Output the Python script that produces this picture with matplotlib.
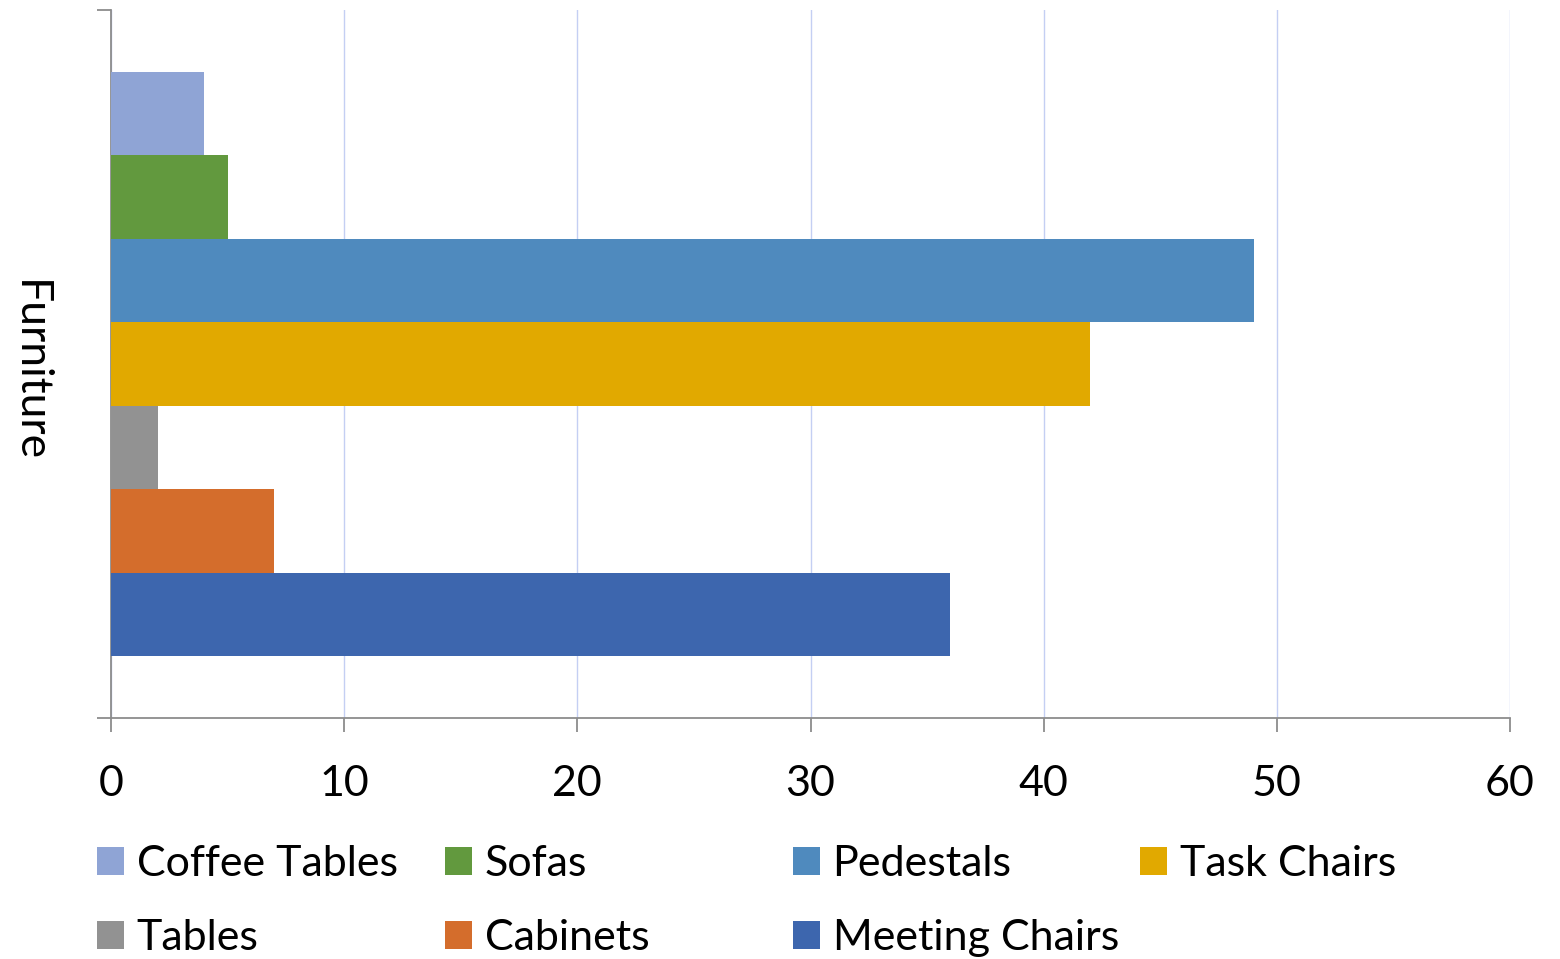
import matplotlib
matplotlib.use("Agg")
import matplotlib.pyplot as plt
from matplotlib.patches import Patch

plt.rcParams['font.family'] = ['Lato', 'DejaVu Sans']

series = ["Coffee Tables", "Sofas", "Pedestals", "Task Chairs", "Tables", "Cabinets", "Meeting Chairs"]
values = [4, 5, 49, 42, 2, 7, 36]
colors = ["#8FA4D5", "#62993E", "#4F8ABE", "#E1A900", "#929292", "#D46D2C", "#3D66AE"]
category = "Furniture"
xticks = [0, 10, 20, 30, 40, 50, 60]

fig = plt.figure(figsize=(15.6, 9.59), dpi=100)
ax = fig.add_axes([111/1560, 1 - 718/959, 1399/1560, 708/959])

n = len(series)
group = 0.825
h = group / n
for i, (s, v, c) in enumerate(zip(series, values, colors)):
    y = -group / 2 + h * (i + 0.5)
    ax.barh(y, v, height=h, color=c, label=s, zorder=3)

ax.set_ylim(0.5, -0.5)
ax.set_xlim(0, 60)
ax.set_xticks(xticks)
ax.set_xticklabels([str(t) for t in xticks])
ax.set_yticks([-0.5, 0.5])
ax.set_yticklabels([])

grey = "#8C8C8C"
for sp in ["top", "right"]:
    ax.spines[sp].set_visible(False)
for sp in ["left", "bottom"]:
    ax.spines[sp].set_color(grey)
    ax.spines[sp].set_linewidth(1.3)
ax.tick_params(axis='x', direction='out', length=10, width=1.3, color=grey,
               labelsize=31, pad=23.5, labelcolor='black')
ax.tick_params(axis='y', direction='out', length=10, width=1.3, color=grey)
ax.xaxis.grid(True, color="#C4CFF3", linewidth=1.0, zorder=0)
ax.set_axisbelow(True)

ax.set_ylabel(category, rotation=270, fontsize=32, labelpad=0)
ax.yaxis.set_label_coords(-0.073, 0.49)

# legend: four columns, row-major order
handles = [Patch(facecolor=c, edgecolor='none') for c in colors]
col_x = [97, 445, 793, 1140]
for col in range(4):
    idx = [i for i in range(n) if i % 4 == col]
    fig.legend([handles[i] for i in idx], [series[i] for i in idx],
               loc='upper left', bbox_to_anchor=(col_x[col] / 1560, 1 - 845 / 959),
               frameon=False, fontsize=31, handlelength=0.62, handleheight=0.62,
               handletextpad=0.3, labelspacing=0.84, borderaxespad=0, borderpad=0)

fig.savefig("out.png", dpi=100)
